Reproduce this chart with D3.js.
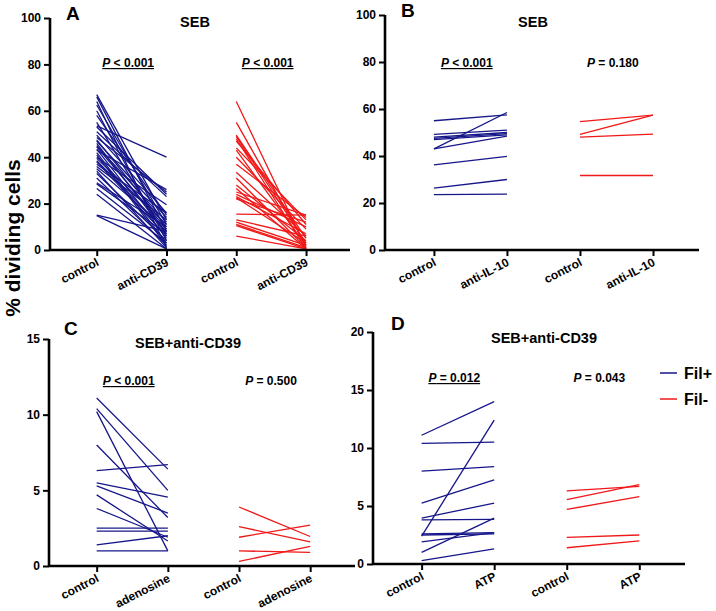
<!DOCTYPE html>
<html><head><meta charset="utf-8">
<script src="https://cdn.jsdelivr.net/npm/d3@7"></script>
<style>
body{margin:0;background:#fff;}
svg text{font-family:"Liberation Sans",Arial,sans-serif;font-weight:bold;}
</style></head>
<body><svg id="chart" width="716" height="611"></svg>
<script>
// ---- data ----
const A_xLabels = ["control","anti-CD39","control","anti-CD39"];
const A_filPos_control = [67,66,64,62.5,60,58,55,53.5,53,51,49.5,48.5,47.5,47,46,45,44.5,43.5,43,42,41,40,39.5,38.5,38,37,36,35,34,33,31,29,28.5,26.5,24,15,14.8];
const A_filPos_antiCD39 = [13,8,1,11,4,15,6,40,24,23,16,25,10,14,7,12,9,5,26,3,2,19.5,11,8,6,16,13,9,1,4,2,10,7,3,0.5,8,0.5];
const A_filNeg_control = [64,55,49.5,49,48,47,44,43,40,37,33.5,31,28,26.5,25,24,23,22.5,22,15.5,13,12,11,10.5,6];
const A_filNeg_antiCD39 = [1,2,5,3,0.5,11,13,2,9,14,6,1,4,0.5,15,10,7,3,12,15,6,2,1,0.5,0.5];

const B_xLabels = ["control","anti-IL-10","control","anti-IL-10"];
const B_filPos_control = [55,49.2,48,47.5,47,43,43,36.2,26.3,23.6];
const B_filPos_antiIL10 = [57.5,51,50,49.5,49,48.5,58.5,39.8,30,23.8];
const B_filNeg_control = [54.6,49.2,48,31.7];
const B_filNeg_antiIL10 = [57.4,57.4,49.3,31.7];

const C_xLabels = ["control","adenosine","control","adenosine"];
const C_filPos_control = [11.1,10.4,10.2,8.0,6.3,5.5,5.3,4.7,3.8,2.5,2.3,1.4,1.0];
const C_filPos_adenosine = [6.4,5.0,1.0,3.2,6.7,4.55,3.5,1.65,1.9,2.5,2.3,2.0,1.0];
const C_filNeg_control = [3.9,2.6,1.9,1.0,0.3];
const C_filNeg_adenosine = [1.95,1.6,2.7,0.9,1.3];

const D_xLabels = ["control","ATP","control","ATP"];
const D_filPos_control = [11.1,10.4,8.0,5.25,3.95,3.8,2.6,2.5,2.4,1.9,1.0,0.3];
const D_filPos_ATP = [14.0,10.5,8.4,7.25,5.25,3.85,2.7,2.6,12.4,2.7,3.95,1.3];
const D_filNeg_control = [6.3,5.55,4.7,2.3,1.4];
const D_filNeg_ATP = [6.7,6.85,5.8,2.5,2.0];

const yTicksAB = [0,20,40,60,80,100];
const yTicksC = [0,5,10,15];
const yTicksD = [0,5,10,15,20];
const legendLabels = ["Fil+","Fil-"];

const BLUE = "#16168a", RED = "#f01818";
const svg = d3.select("#chart");

function panel(o){
  const g = svg.append("g");
  const x = d3.scaleLinear().domain([-0.67,3.63]).range([o.x0,o.x1]);
  const y = d3.scaleLinear().domain([0,o.ymax]).range([o.y0,o.y1]);
  const pairs = (a,b)=>a.map((v,i)=>[v,b[i]]);
  const line = (p,off)=>g.append("line")
      .attr("x1",x(off)).attr("x2",x(off+1))
      .attr("y1",y(p[0])).attr("y2",y(p[1]));
  pairs(o.pc,o.pa).forEach(p=>line(p,0).attr("stroke",BLUE).attr("stroke-width",1.3));
  pairs(o.nc,o.na).forEach(p=>line(p,2).attr("stroke",RED).attr("stroke-width",1.3));
  const ya = d3.axisLeft(y).tickValues(o.yticks).tickSize(6).tickPadding(3).tickFormat(d3.format("d"));
  const yg = g.append("g").attr("transform",`translate(${o.x0},0)`).call(ya);
  const xa = d3.axisBottom(x).tickValues([0,1,2,3]).tickSize(6).tickFormat("");
  const xg = g.append("g").attr("transform",`translate(0,${o.y0})`).call(xa);
  [yg,xg].forEach(a=>{
    a.select(".domain").attr("stroke","#000").attr("stroke-width",2.6);
    a.selectAll(".tick line").attr("stroke","#000").attr("stroke-width",2);
  });
  xg.select(".domain").attr("d",`M${o.x0},0H${o.x1}`);
  yg.select(".domain").attr("d",`M0,${o.y0}V${o.y1}`);
  yg.selectAll(".tick text").attr("font-size",12).attr("fill","#000")
    .style("font-family","'Liberation Sans',Arial,sans-serif").style("font-weight","bold");
  o.labels.forEach((t,i)=>{
    g.append("text").attr("transform",`translate(${x(i)+3},${o.y0+15}) rotate(-27)`)
      .attr("text-anchor","end").attr("font-size",12).text(t);
  });
  g.append("text").attr("x",o.tx).attr("y",o.ty).attr("text-anchor","middle").attr("font-size",14.5).text(o.title);
  g.append("text").attr("x",o.lx).attr("y",o.ly).attr("font-size",19).text(o.letter);
  o.pv.forEach((p,i)=>{
    const t = g.append("text").attr("x",x(i*2+0.45)).attr("y",o.py).attr("text-anchor","middle").attr("font-size",12);
    if(p.u) t.style("text-decoration","underline");
    t.append("tspan").attr("font-style","italic").text("P");
    t.append("tspan").text(" "+p.t);
  });
}

panel({x0:50,x1:350,y0:250,y1:18,ymax:100,yticks:yTicksAB,labels:A_xLabels,
  pc:A_filPos_control,pa:A_filPos_antiCD39,nc:A_filNeg_control,na:A_filNeg_antiCD39,
  title:"SEB",tx:195,ty:27,letter:"A",lx:66,ly:20,py:67,
  pv:[{t:"< 0.001",u:true},{t:"< 0.001",u:true}]});
panel({x0:385,x1:699,y0:250,y1:15,ymax:100,yticks:yTicksAB,labels:B_xLabels,
  pc:B_filPos_control,pa:B_filPos_antiIL10,nc:B_filNeg_control,na:B_filNeg_antiIL10,
  title:"SEB",tx:533,ty:27,letter:"B",lx:401,ly:17,py:67,
  pv:[{t:"< 0.001",u:true},{t:"= 0.180",u:false}]});
panel({x0:49,x1:355,y0:566,y1:339,ymax:15,yticks:yTicksC,labels:C_xLabels,
  pc:C_filPos_control,pa:C_filPos_adenosine,nc:C_filNeg_control,na:C_filNeg_adenosine,
  title:"SEB+anti-CD39",tx:188,ty:348,letter:"C",lx:64,ly:335,py:385,
  pv:[{t:"< 0.001",u:true},{t:"= 0.500",u:false}]});
panel({x0:373,x1:685,y0:564,y1:332,ymax:20,yticks:yTicksD,labels:D_xLabels,
  pc:D_filPos_control,pa:D_filPos_ATP,nc:D_filNeg_control,na:D_filNeg_ATP,
  title:"SEB+anti-CD39",tx:544,ty:343,letter:"D",lx:391,ly:330,py:382,
  pv:[{t:"= 0.012",u:true},{t:"= 0.043",u:false}]});

svg.append("text").attr("transform","translate(20,238) rotate(-90)").attr("text-anchor","middle")
  .attr("font-size",21).text("% dividing cells");

legendLabels.forEach((t,i)=>{
  const yy = 373 + i*26;
  svg.append("line").attr("x1",660).attr("x2",677).attr("y1",yy).attr("y2",yy)
    .attr("stroke",i===0?BLUE:RED).attr("stroke-width",1.5);
  svg.append("text").attr("x",684).attr("y",yy+6).attr("font-size",16).text(t);
});
</script></body></html>
